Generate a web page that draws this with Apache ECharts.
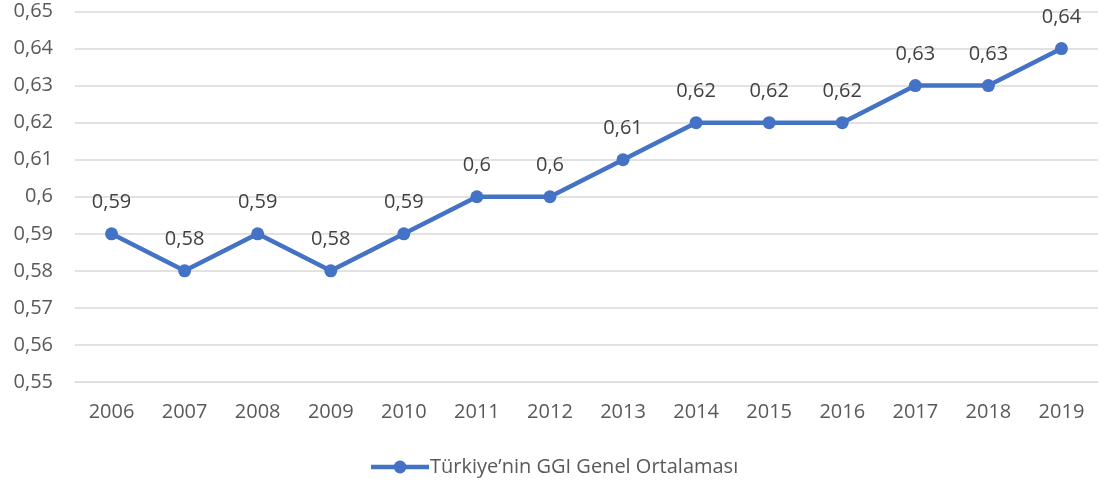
<!DOCTYPE html>
<html><head><meta charset="utf-8">
<script src="https://cdn.jsdelivr.net/npm/echarts@6/dist/echarts.min.js"></script>
<style>html,body{margin:0;padding:0;background:#fff}#c{width:1107px;height:485px}</style>
</head><body><div id="c"></div>
<script>
const years = ['2006','2007','2008','2009','2010','2011','2012','2013','2014','2015','2016','2017','2018','2019'];
const ggiValues = [0.59,0.58,0.59,0.58,0.59,0.60,0.60,0.61,0.62,0.62,0.62,0.63,0.63,0.64];
const seriesName = 'Türkiye’nin GGI Genel Ortalaması';
const fmt = v => String(+v.toFixed(2)).replace('.', ',');
const FONT = '"Open Sans", "Noto Sans", sans-serif';
const chart = echarts.init(document.getElementById('c'));
chart.setOption({
  animation: false,
  textStyle: {fontFamily: FONT},
  grid: {left: 75, right: 9, top: 11.5, bottom: 103, containLabel: false},
  xAxis: {
    type: 'category', data: years, boundaryGap: true,
    axisLine: {show: true, lineStyle: {color: '#d9d9d9', width: 1}},
    axisTick: {show: false},
    axisLabel: {color: '#595959', fontSize: 20, fontFamily: FONT, margin: 20}
  },
  yAxis: {
    type: 'value', min: 0.55, max: 0.65, interval: 0.01,
    axisLine: {show: false}, axisTick: {show: false},
    splitLine: {lineStyle: {color: '#d9d9d9', width: 1.5}},
    axisLabel: {color: '#595959', fontSize: 20, fontFamily: FONT, margin: 22, formatter: v => fmt(v)}
  },
  legend: {
    bottom: 3, left: 'center', itemWidth: 58, itemHeight: 16, itemGap: 10,
    lineStyle: {width: 4.5, color: '#4472C4'},
    textStyle: {color: '#595959', fontSize: 20, fontFamily: FONT, padding: [0,0,0,-4]},
    data: [{name: seriesName}]
  },
  series: [{
    name: seriesName, type: 'line', data: ggiValues,
    symbol: 'circle', symbolSize: 13,
    lineStyle: {color: '#4472C4', width: 4.5},
    itemStyle: {color: '#4472C4'},
    label: {show: true, position: 'top', distance: 15, color: '#404040', fontSize: 20, fontFamily: FONT, formatter: p => fmt(p.value)}
  }]
});
</script></body></html>
